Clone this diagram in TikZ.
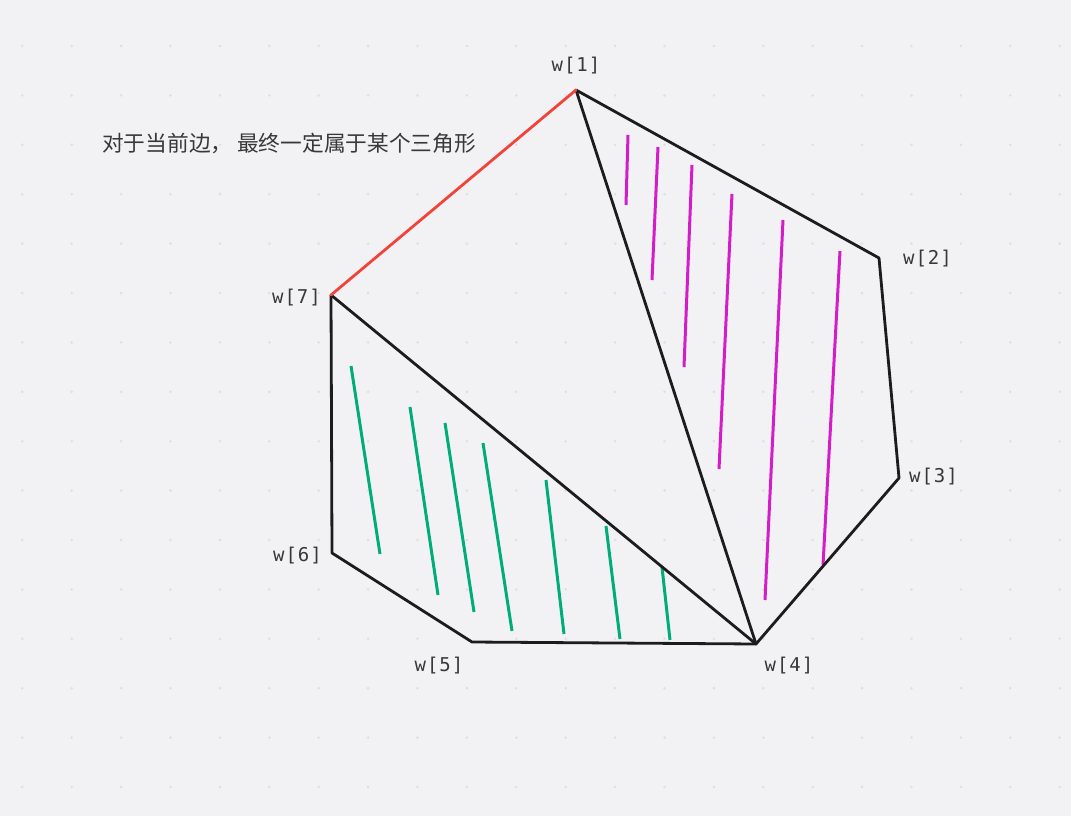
\documentclass[tikz,border=0pt]{standalone}
\usepackage{fontspec}
\newfontfamily\cjk{Noto Sans CJK SC}
\newfontfamily\labfont[LetterSpace=5]{DejaVu Sans Mono}
\definecolor{bg}{HTML}{F2F2F4}
\definecolor{dotc}{HTML}{DFDFE1}
\definecolor{edge}{HTML}{1C1C1C}
\definecolor{redE}{HTML}{F2433A}
\definecolor{mag}{HTML}{D41DC8}
\definecolor{grn}{HTML}{00AD78}
\definecolor{txt}{HTML}{383838}
\tikzset{
  edgeline/.style={draw=edge, line width=2.8pt, line join=round, line cap=round},
  redline/.style={draw=redE, line width=2.8pt, line cap=round},
  maghatch/.style={draw=mag, line width=3pt},
  grnhatch/.style={draw=grn, line width=3pt},
  vlabel/.style={font=\labfont\fontsize{19}{22}\selectfont, text=txt, inner sep=0pt},
  note/.style={font=\cjk\fontsize{21.7}{25}\selectfont, text=txt, inner sep=0pt, anchor=west}
}
\begin{document}
\begin{tikzpicture}[x=1pt,y=-1pt]
\fill[bg] (0,0) rectangle (1071,816);
\useasboundingbox (0,0) rectangle (1071,816);
% dot grid
\foreach \i in {0,...,21}{
  \foreach \j in {0,...,15}{
    \fill[dotc] ({22.3+49.4*\i},{46+49.4*\j}) circle (1.4);
  }
}
% vertices
\coordinate (w1) at (576,90);
\coordinate (w2) at (879,258);
\coordinate (w3) at (899,478);
\coordinate (w4) at (756,644);
\coordinate (w5) at (472,642);
\coordinate (w6) at (332,553);
\coordinate (w7) at (331,295);
% hatching magenta
\draw[maghatch] (628,135) -- (626,205);
\draw[maghatch] (658,147) -- (652,280);
\draw[maghatch] (692,165) -- (684,367);
\draw[maghatch] (732,194) -- (719,469);
\draw[maghatch] (783,220) -- (765,600);
\draw[maghatch] (840,251) -- (823,565);
% hatching green
\draw[grnhatch] (351,366) -- (380,554);
\draw[grnhatch] (410,407) -- (438,595);
\draw[grnhatch] (445,423) -- (474,612);
\draw[grnhatch] (483,443) -- (512,631);
\draw[grnhatch] (546,480) -- (564,634);
\draw[grnhatch] (606,526) -- (620,639);
\draw[grnhatch] (662,567) -- (670,640);
% edges
\draw[edgeline] (w1) -- (w2) -- (w3) -- (w4) -- (w5) -- (w6) -- (w7);
\draw[edgeline] (w1) -- (w4);
\draw[edgeline] (w7) -- (w4);
\draw[redline] (w7) -- (w1);
% labels
\node[vlabel] (l1) at (576,66) {w[1]};
\node[vlabel, anchor=west] (l2) at (903,259) {w[2]};
\node[vlabel, anchor=west] (l3) at (909,477) {w[3]};
\node[vlabel] (l4) at (789,666) {w[4]};
\node[vlabel] (l5) at (439,666) {w[5]};
\node[vlabel, anchor=east] (l6) at (322,556) {w[6]};
\node[vlabel, anchor=east] (l7) at (321,298) {w[7]};
\node[note] (t) at (102,143) {对于当前边， 最终一定属于某个三角形};
\end{tikzpicture}
\end{document}
